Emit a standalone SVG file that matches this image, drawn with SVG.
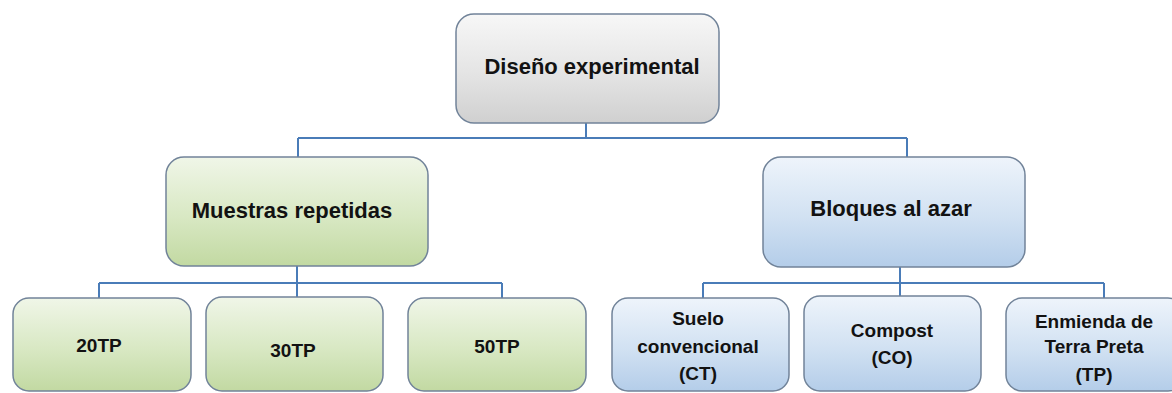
<svg xmlns="http://www.w3.org/2000/svg" width="1172" height="393" viewBox="0 0 1172 393">
  <defs>
    <linearGradient id="gGray" x1="0" y1="0" x2="0" y2="1">
      <stop offset="0" stop-color="#f7f7f7"/>
      <stop offset="0.55" stop-color="#e4e4e4"/>
      <stop offset="1" stop-color="#d0d0d0"/>
    </linearGradient>
    <linearGradient id="gGreen" x1="0" y1="0" x2="0" y2="1">
      <stop offset="0" stop-color="#f0f6e8"/>
      <stop offset="0.55" stop-color="#d8e8c3"/>
      <stop offset="1" stop-color="#c2d9a2"/>
    </linearGradient>
    <linearGradient id="gBlue" x1="0" y1="0" x2="0" y2="1">
      <stop offset="0" stop-color="#eef4fb"/>
      <stop offset="0.55" stop-color="#d1e1f2"/>
      <stop offset="1" stop-color="#b4cde9"/>
    </linearGradient>
  </defs>
  <style>
    .box { stroke: #718399; stroke-width: 1.5; }
    .gray { fill: url(#gGray); }
    .green { fill: url(#gGreen); }
    .blue { fill: url(#gBlue); }
    .conn { fill: none; stroke: #4a7cb8; stroke-width: 2; }
    text { font-family: "Liberation Sans", Arial, sans-serif; font-weight: bold; fill: #121212; text-anchor: middle; }
    .l1 { font-size: 22px; }
    .l3 { font-size: 19px; }
  </style>
  <rect width="1172" height="393" fill="#ffffff"/>

  <g id="connectors">
    <path class="conn" d="M586,123 V138 M298,138 H907 M298,138 V157 M907,138 V157"/>
    <path class="conn" d="M297,266 V283 M99,283 H502 M99,283 V298 M297,283 V297 M502,283 V298"/>
    <path class="conn" d="M900,267 V283 M703,283 H1104 M703,283 V298 M900,283 V296 M1104,283 V298"/>
  </g>

  <g id="node-diseno">
    <rect class="box gray" x="456" y="14" width="263" height="109" rx="18"/>
    <text class="l1" x="592" y="74">Diseño experimental</text>
  </g>
  <g id="node-muestras">
    <rect class="box green" x="166" y="157" width="262" height="109" rx="18"/>
    <text class="l1" x="292" y="218">Muestras repetidas</text>
  </g>
  <g id="node-bloques">
    <rect class="box blue" x="763" y="157" width="262" height="110" rx="18"/>
    <text class="l1" x="891" y="216">Bloques al azar</text>
  </g>
  <g id="node-20tp">
    <rect class="box green" x="13" y="298" width="178" height="93" rx="16"/>
    <text class="l3" x="99" y="352">20TP</text>
  </g>
  <g id="node-30tp">
    <rect class="box green" x="206" y="297" width="177" height="94" rx="16"/>
    <text class="l3" x="293" y="357">30TP</text>
  </g>
  <g id="node-50tp">
    <rect class="box green" x="408" y="298" width="178" height="93" rx="16"/>
    <text class="l3" x="497" y="353">50TP</text>
  </g>
  <g id="node-suelo">
    <rect class="box blue" x="612" y="298" width="177" height="93" rx="16"/>
    <text class="l3" x="698" y="325">Suelo</text>
    <text class="l3" x="698" y="353">convencional</text>
    <text class="l3" x="698" y="380">(CT)</text>
  </g>
  <g id="node-compost">
    <rect class="box blue" x="804" y="296" width="177" height="95" rx="16"/>
    <text class="l3" x="892" y="337">Compost</text>
    <text class="l3" x="892" y="364">(CO)</text>
  </g>
  <g id="node-enmienda">
    <rect class="box blue" x="1006" y="298" width="178" height="93" rx="16"/>
    <text class="l3" x="1094" y="328">Enmienda de</text>
    <text class="l3" x="1094" y="353">Terra Preta</text>
    <text class="l3" x="1094" y="381">(TP)</text>
  </g>
</svg>
